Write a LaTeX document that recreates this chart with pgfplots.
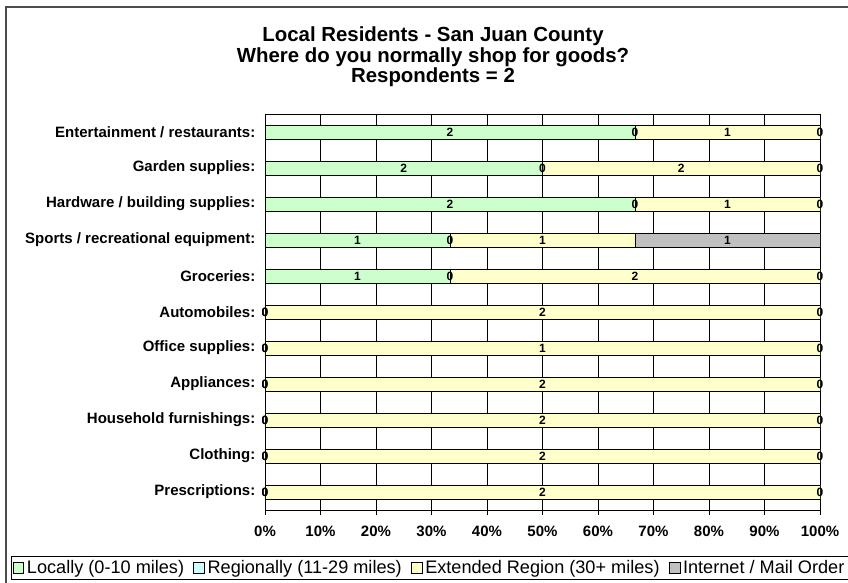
\documentclass[border=0pt]{standalone}
\usepackage{pgfplots}
\pgfplotsset{compat=1.18}
\usepackage{pgfplotstable}
\usepackage{fontspec}
\setmainfont{Liberation Sans}

\definecolor{cLocal}{RGB}{204,255,204}
\definecolor{cRegional}{RGB}{204,255,255}
\definecolor{cExtended}{RGB}{255,255,204}
\definecolor{cInternet}{RGB}{192,192,192}

% share of respondents (percent) and count, rows from top to bottom
\pgfplotstableread{
y p n
0 66.667 2
1 50 2
2 66.667 2
3 33.333 1
4 33.333 1
5 0 0
6 0 0
7 0 0
8 0 0
9 0 0
10 0 0
}\localdata
\pgfplotstableread{
y p n
0 0 0
1 0 0
2 0 0
3 0 0
4 0 0
5 0 0
6 0 0
7 0 0
8 0 0
9 0 0
10 0 0
}\regionaldata
\pgfplotstableread{
y p n
0 33.333 1
1 50 2
2 33.333 1
3 33.333 1
4 66.667 2
5 100 2
6 100 1
7 100 2
8 100 2
9 100 2
10 100 2
}\extendeddata
\pgfplotstableread{
y p n
0 0 0
1 0 0
2 0 0
3 33.333 1
4 0 0
5 0 0
6 0 0
7 0 0
8 0 0
9 0 0
10 0 0
}\internetdata

\begin{document}
\begin{tikzpicture}
\def\u{0.75pt}
\clip (0,0) rectangle (848*\u,-582*\u);
\draw[line width=1.5*\u, black!70] (6*\u,-7*\u) rectangle (900*\u,-640*\u);
\node[font=\bfseries\fontsize{15.3}{14}\selectfont, align=center] at (433*\u,-57*\u)
  {Local Residents - San Juan County\\Where do you normally shop for goods?\\Respondents = 2};
\begin{axis}[
  at={(265*\u,-114*\u)}, anchor=north west,
  scale only axis, width=555*\u, height=396*\u,
  xbar stacked, bar width=14*\u,
  stacked ignores zero=false,
  xmin=0, xmax=100, ymin=-0.5, ymax=10.5, y dir=reverse,
  xtick={0,10,...,100},
  xticklabels={0\%,10\%,20\%,30\%,40\%,50\%,60\%,70\%,80\%,90\%,100\%},
  ytick={0,...,10},
  yticklabels={Entertainment / restaurants:, Garden supplies:, Hardware / building supplies:,
    Sports / recreational equipment:, Groceries:, Automobiles:, Office supplies:,
    Appliances:, Household furnishings:, Clothing:, Prescriptions:},
  minor ytick={-0.5,0.5,...,10.5},
  ytick style={draw=none},
  minor tick style={black, line width=0.75pt},
  tick align=outside, major tick length=5*\u, minor tick length=5*\u,
  xtick pos=bottom, ytick pos=left,
  xtick style={black, line width=0.75pt},
  xmajorgrids, grid style={black, line width=0.75pt},
  axis line style={black, line width=0.75pt},
  tick label style={font=\bfseries\fontsize{11.25}{12}\selectfont},
  xticklabel style={yshift=-5pt},
  /pgf/number format/assume math mode=true,
  point meta=explicit,
  nodes near coords,
  every node near coord/.append style={font=\bfseries\fontsize{9}{9}\selectfont, anchor=center, black},
  mybar/.style={draw=black, line width=0.75pt, fill=#1,
    legend image code/.code={\draw[draw=black, line width=0.6pt, fill=#1] (0pt,-4pt) rectangle (8pt,4pt);}},
  legend columns=4,
  legend style={at={(-0.4577,-0.1162)}, anchor=north west, draw=black, line width=0.75pt,
    font=\fontsize{13.6}{14}\selectfont, inner sep=1pt,
    /tikz/every even column/.append style={column sep=5pt}},
]
\addplot[mybar=cLocal] table[y=y, x=p, meta=n] {\localdata};
\addplot[mybar=cRegional] table[y=y, x=p, meta=n] {\regionaldata};
\addplot[mybar=cExtended] table[y=y, x=p, meta=n] {\extendeddata};
\addplot[mybar=cInternet] table[y=y, x=p, meta=n] {\internetdata};
\legend{Locally (0-10 miles), Regionally (11-29 miles), Extended Region (30+ miles), Internet / Mail Order}
\end{axis}
\end{tikzpicture}
\end{document}
